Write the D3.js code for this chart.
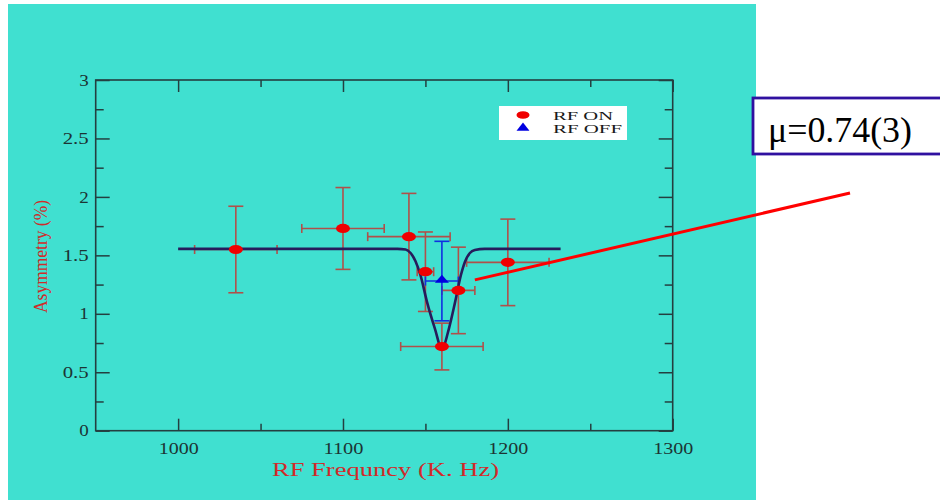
<!DOCTYPE html>
<html>
<head>
<meta charset="utf-8">
<script src="https://cdn.jsdelivr.net/npm/d3@7"></script>
<style>
html,body{margin:0;padding:0;background:#ffffff;}
svg{display:block;}
</style>
</head>
<body>
<svg id="chart" width="940" height="502"></svg>
<script>
// ---- data ----
const onX    = [1035, 1100, 1140, 1150, 1160, 1170, 1200];
const onY    = [1.55, 1.73, 1.66, 1.36, 0.72, 1.20, 1.44];
const onXErr = [25, 25, 25, 5, 25, 10, 25];
const onYErr = [0.37, 0.35, 0.37, 0.34, 0.20, 0.37, 0.37];

const offX    = [1160];
const offY    = [1.28];
const offXErr = [10];
const offYErr = [0.34];

const fitX = [1000, 1133, 1138, 1141, 1144, 1147, 1151, 1155.7, 1160, 1164.3, 1168, 1171.5, 1174, 1177, 1180, 1186, 1232];
const fitY = [1.555, 1.555, 1.55, 1.52, 1.45, 1.33, 1.10, 0.876, 0.70, 0.876, 1.10, 1.33, 1.446, 1.52, 1.545, 1.555, 1.555];

const xMajor = [1000, 1100, 1200, 1300];
const xMinor = [1050, 1150, 1250];
const yMajor = [0, 0.5, 1, 1.5, 2, 2.5, 3];
const yMinor = [0.25, 0.75, 1.25, 1.75, 2.25, 2.75];

const xTitle = "RF Frequncy (K. Hz)";
const yTitle = "Asymmetry (%)";
const legendLabels = ["RF ON", "RF OFF"];
const annotation = "\u03bc=0.74(3)";
const annotationAnchor = [1180, 1.29];

// ---- layout ----
const svg = d3.select("#chart");
const L = 95.7, R = 672.7, T = 80, B = 430.7;
const x = d3.scaleLinear().domain([950, 1300]).range([L, R]);
const y = d3.scaleLinear().domain([0, 3]).range([B, T]);

const axisCol = "#243f40";
const tickCol = "#1c3434";
const errCol = "#b0504a";
const serif = "'Liberation Serif','DejaVu Serif',serif";

// background
svg.append("rect").attr("x", 8).attr("y", 4).attr("width", 748).attr("height", 496).attr("fill", "#40e0d0");

function styleAxis(g) {
  g.select(".domain").remove();
  g.selectAll(".tick line").attr("stroke", axisCol).attr("stroke-width", 1.5);
}

// frame
svg.append("rect").attr("x", L).attr("y", T).attr("width", R - L).attr("height", B - T)
  .attr("fill", "none").attr("stroke", axisCol).attr("stroke-width", 1.6);

// bottom axis
const gB = svg.append("g").attr("transform", `translate(0,${B})`)
  .call(d3.axisBottom(x).tickValues(xMajor).tickSize(-12).tickPadding(12).tickFormat(d3.format("d")));
styleAxis(gB);
gB.selectAll("text").attr("font-family", serif).attr("font-size", 16).attr("fill", tickCol)
  .attr("textLength", 40).attr("lengthAdjust", "spacingAndGlyphs");
svg.append("g").attr("transform", `translate(0,${B})`)
  .call(d3.axisBottom(x).tickValues(xMinor).tickSize(-7).tickFormat(""))
  .call(styleAxis);
// top axis
svg.append("g").attr("transform", `translate(0,${T})`)
  .call(d3.axisTop(x).tickValues(xMajor).tickSize(-12).tickFormat(""))
  .call(styleAxis);
svg.append("g").attr("transform", `translate(0,${T})`)
  .call(d3.axisTop(x).tickValues(xMinor).tickSize(-7).tickFormat(""))
  .call(styleAxis);
// left axis
const gL = svg.append("g").attr("transform", `translate(${L},0)`)
  .call(d3.axisLeft(y).tickValues(yMajor).tickSize(-14).tickPadding(7).tickFormat(d => String(d)));
styleAxis(gL);
gL.selectAll("text").attr("font-family", serif).attr("font-size", 16).attr("fill", tickCol)
  .attr("textLength", d => String(d).length === 1 ? 9.5 : 26).attr("lengthAdjust", "spacingAndGlyphs");
svg.append("g").attr("transform", `translate(${L},0)`)
  .call(d3.axisLeft(y).tickValues(yMinor).tickSize(-8).tickFormat(""))
  .call(styleAxis);
// right axis
svg.append("g").attr("transform", `translate(${R},0)`)
  .call(d3.axisRight(y).tickValues(yMajor).tickSize(-14).tickFormat(""))
  .call(styleAxis);
svg.append("g").attr("transform", `translate(${R},0)`)
  .call(d3.axisRight(y).tickValues(yMinor).tickSize(-8).tickFormat(""))
  .call(styleAxis);

// axis titles
svg.append("text").attr("x", (272 + 499) / 2).attr("y", 476)
  .attr("text-anchor", "middle").attr("font-family", serif).attr("font-size", 19)
  .attr("fill", "#d02a2a").attr("textLength", 227).attr("lengthAdjust", "spacingAndGlyphs")
  .text(xTitle);
svg.append("text").attr("transform", `translate(47,${(200 + 313) / 2}) rotate(-90)`)
  .attr("text-anchor", "middle").attr("font-family", serif).attr("font-size", 19)
  .attr("fill", "#d02a2a").attr("textLength", 113).attr("lengthAdjust", "spacingAndGlyphs")
  .text(yTitle);

// error bars
function errorBars(xs, ys, xe, ye, col) {
  const g = svg.append("g").attr("stroke", col).attr("stroke-width", 1.6).attr("fill", "none");
  xs.forEach((xv, i) => {
    const cx = x(xv), cy = y(ys[i]);
    const x0 = x(xv - xe[i]), x1 = x(xv + xe[i]);
    const y0 = y(ys[i] + ye[i]), y1 = y(ys[i] - ye[i]);
    g.append("line").attr("x1", cx).attr("x2", cx).attr("y1", y0).attr("y2", y1);
    g.append("line").attr("x1", cx - 7.5).attr("x2", cx + 7.5).attr("y1", y0).attr("y2", y0);
    g.append("line").attr("x1", cx - 7.5).attr("x2", cx + 7.5).attr("y1", y1).attr("y2", y1);
    g.append("line").attr("x1", x0).attr("x2", x1).attr("y1", cy).attr("y2", cy);
    g.append("line").attr("x1", x0).attr("x2", x0).attr("y1", cy - 4.5).attr("y2", cy + 4.5);
    g.append("line").attr("x1", x1).attr("x2", x1).attr("y1", cy - 4.5).attr("y2", cy + 4.5);
  });
}
errorBars(onX, onY, onXErr, onYErr, errCol);
errorBars(offX, offY, offXErr, offYErr, "#1030e0");

// fit curve
const fitData = fitX.map((v, i) => [v, fitY[i]]);
svg.append("path").datum(fitData)
  .attr("d", d3.line().x(d => x(d[0])).y(d => y(d[1])).curve(d3.curveMonotoneX))
  .attr("fill", "none").attr("stroke", "#261c5c").attr("stroke-width", 2.6);

// markers
svg.append("g").selectAll("ellipse").data(onX.map((v, i) => [v, onY[i]])).join("ellipse")
  .attr("cx", d => x(d[0])).attr("cy", d => y(d[1])).attr("rx", 7).attr("ry", 4.6)
  .attr("fill", "#f00000");
const tri = d3.symbol().type(d3.symbolTriangle).size(60);
svg.append("g").selectAll("path").data(offX.map((v, i) => [v, offY[i]])).join("path")
  .attr("d", tri).attr("transform", d => `translate(${x(d[0])},${y(d[1]) - 1}) scale(1.2,0.8)`)
  .attr("fill", "#0000e0");

// legend
const lg = svg.append("g");
lg.append("rect").attr("x", 499).attr("y", 106).attr("width", 128).attr("height", 34).attr("fill", "#ffffff");
lg.append("ellipse").attr("cx", 523).attr("cy", 115).attr("rx", 6.5).attr("ry", 3.8).attr("fill", "#f00000");
lg.append("path").attr("d", tri).attr("transform", "translate(523,128) scale(1.1,0.8)").attr("fill", "#0000e0");
lg.append("text").attr("x", 553).attr("y", 119.5).attr("font-family", serif).attr("font-size", 12)
  .attr("fill", "#1a1a1a").attr("textLength", 60).attr("lengthAdjust", "spacingAndGlyphs").text(legendLabels[0]);
lg.append("text").attr("x", 553).attr("y", 132.5).attr("font-family", serif).attr("font-size", 12)
  .attr("fill", "#1a1a1a").attr("textLength", 69).attr("lengthAdjust", "spacingAndGlyphs").text(legendLabels[1]);

// annotation
svg.append("line").attr("x1", x(annotationAnchor[0])).attr("y1", y(annotationAnchor[1]))
  .attr("x2", 850).attr("y2", 193).attr("stroke", "#ff0000").attr("stroke-width", 3);
svg.append("rect").attr("x", 753).attr("y", 98).attr("width", 200).attr("height", 56)
  .attr("fill", "#ffffff").attr("stroke", "#3010a0").attr("stroke-width", 2.8);
svg.append("text").attr("x", 768).attr("y", 142).attr("font-family", serif).attr("font-size", 36)
  .attr("fill", "#000000").attr("textLength", 144).attr("lengthAdjust", "spacingAndGlyphs").text(annotation);
</script>
</body>
</html>
